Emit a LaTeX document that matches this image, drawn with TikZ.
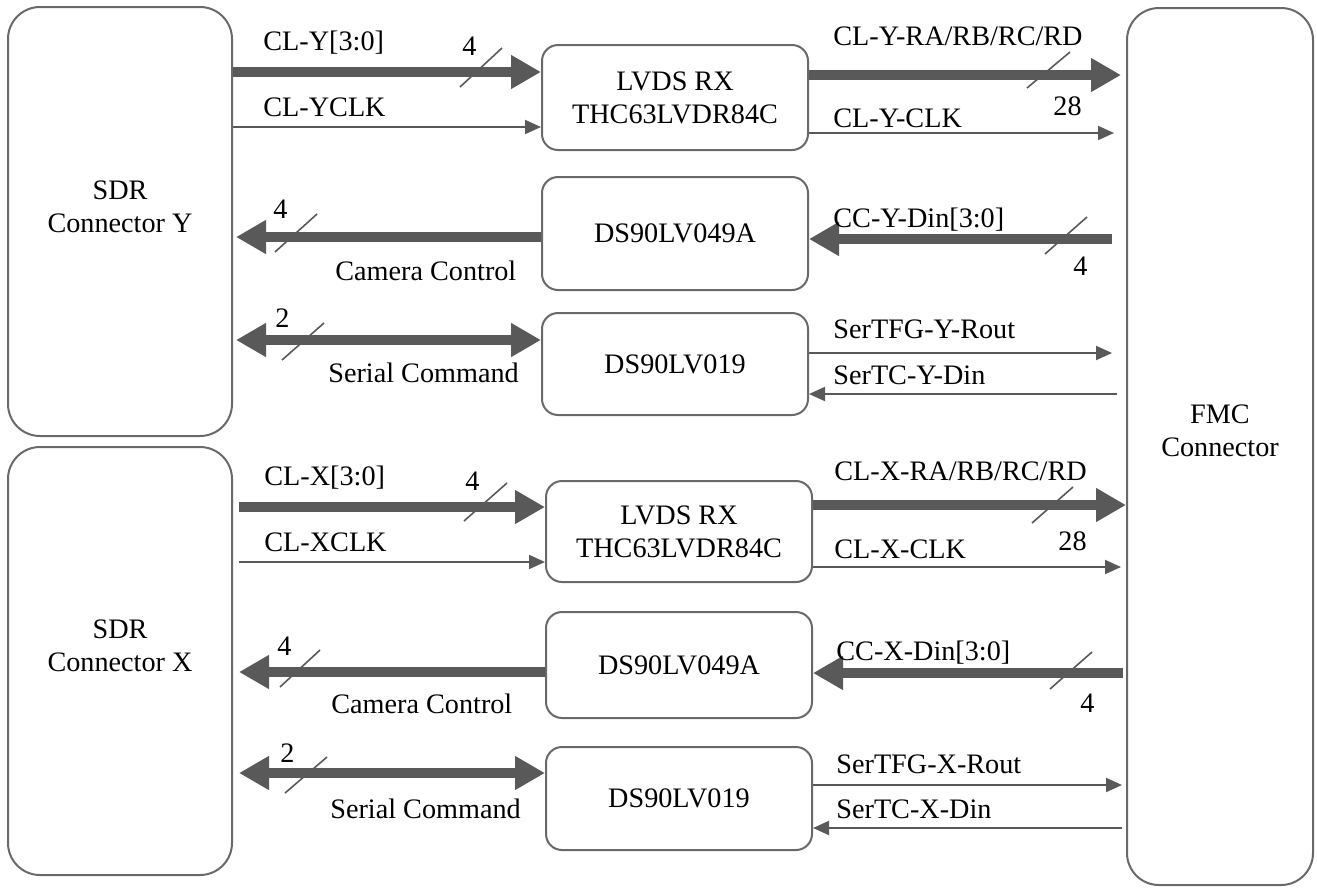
\documentclass[tikz,border=0pt]{standalone}
\usepackage{fontspec}
\setmainfont{Liberation Serif}
\usetikzlibrary{arrows.meta}
\definecolor{boxcol}{RGB}{105,105,105}
\definecolor{arrcol}{RGB}{89,89,89}
\begin{document}
\begin{tikzpicture}[x=0.5pt,y=-0.5pt,
  txt/.style={font=\fontsize{14.1}{16.5}\selectfont},
  bigbox/.style={draw=boxcol, line width=1pt, rounded corners=16pt, inner sep=0pt, minimum width=112pt},
  chip/.style={draw=boxcol, line width=1pt, rounded corners=8pt, inner sep=0pt, minimum width=133pt, align=center, txt},
  bus/.style={draw=arrcol, line width=5.2pt, -{Triangle[length=15pt,width=16pt]}},
  dbus/.style={draw=arrcol, line width=5.2pt, {Triangle[length=15pt,width=16pt]}-{Triangle[length=15pt,width=16pt]}},
  sig/.style={draw=arrcol, line width=1pt, -{Triangle[length=8pt,width=7pt]}},
  tickmark/.style={draw=arrcol, line width=0.8pt},
  lbl/.style={inner sep=0pt, anchor=base west, txt},
  boxtxt/.style={inner sep=0pt, align=center, txt}]
\useasboundingbox (0,0) rectangle (1317,890);

% ---- big connectors
\node[bigbox, minimum height=214.5pt] (sdrY) at (120,221.5) {};
\node[bigbox, minimum height=214pt] (sdrX) at (120,661) {};
\node[bigbox, minimum width=93pt, minimum height=438.5pt] (fmc) at (1220,446.5) {};
\node[boxtxt] (sdrYt) at (120,207) {SDR\\Connector Y};
\node[boxtxt] (sdrXt) at (120,646) {SDR\\Connector X};
\node[boxtxt] (fmct) at (1220,431) {FMC\\Connector};

% ---- chips Y
\node[chip, minimum height=52.5pt] (lvdsY) at (675,97.5) {LVDS RX\\THC63LVDR84C};
\node[chip, minimum height=56.5pt] (dsAY) at (675,233.5) {DS90LV049A};
\node[chip, minimum height=51pt] (dsBY) at (675,364) {DS90LV019};
% ---- chips X
\node[chip, minimum height=50.5pt] (lvdsX) at (679,531.5) {LVDS RX\\THC63LVDR84C};
\node[chip, minimum height=53pt] (dsAX) at (679,665) {DS90LV049A};
\node[chip, minimum height=51.5pt] (dsBX) at (679,798.5) {DS90LV019};

% ---- helper rows
\coordinate (rY1) at (0,72);   \coordinate (rY2) at (0,127);
\coordinate (rY3) at (0,75);   \coordinate (rY4) at (0,133);
\coordinate (rY5) at (0,237);  \coordinate (rY6) at (0,239);
\coordinate (rY7) at (0,340);  \coordinate (rY8) at (0,353);
\coordinate (rY9) at (0,394);
\coordinate (rX1) at (0,507);  \coordinate (rX2) at (0,562);
\coordinate (rX3) at (0,505);  \coordinate (rX4) at (0,567);
\coordinate (rX5) at (0,672);  \coordinate (rX6) at (0,673);
\coordinate (rX7) at (0,773);  \coordinate (rX8) at (0,785);
\coordinate (rX9) at (0,828);

% ---- Y connectors
\draw[bus] (sdrY.east |- rY1) -- (lvdsY.west |- rY1);
\draw[sig] (sdrY.east |- rY2) -- (lvdsY.west |- rY2);
\draw[bus, shorten >=2.5pt] (lvdsY.east |- rY3) -- (fmc.west |- rY3);
\draw[sig, shorten >=6pt] (lvdsY.east |- rY4) -- (fmc.west |- rY4);
\draw[bus, shorten >=1.5pt] (dsAY.west |- rY5) -- (sdrY.east |- rY5);
\draw[bus, shorten <=7pt] (fmc.west |- rY6) -- (dsAY.east |- rY6);
\draw[dbus, shorten <=1.5pt] (sdrY.east |- rY7) -- (dsBY.west |- rY7);
\draw[sig, shorten >=7pt] (dsBY.east |- rY8) -- (fmc.west |- rY8);
\draw[sig, shorten <=4.5pt] (fmc.west |- rY9) -- (dsBY.east |- rY9);

% ---- X connectors
\draw[bus, shorten <=3pt] (sdrX.east |- rX1) -- (lvdsX.west |- rX1);
\draw[sig, shorten <=3pt] (sdrX.east |- rX2) -- (lvdsX.west |- rX2);
\draw[bus] (lvdsX.east |- rX3) -- (fmc.west |- rX3);
\draw[sig, shorten >=2.5pt] (lvdsX.east |- rX4) -- (fmc.west |- rX4);
\draw[bus, shorten >=3pt] (dsAX.west |- rX5) -- (sdrX.east |- rX5);
\draw[bus, shorten <=1.5pt] (fmc.west |- rX6) -- (dsAX.east |- rX6);
\draw[dbus, shorten <=3pt] (sdrX.east |- rX7) -- (dsBX.west |- rX7);
\draw[sig, shorten >=2pt] (dsBX.east |- rX8) -- (fmc.west |- rX8);
\draw[sig, shorten <=2pt] (fmc.west |- rX9) -- (dsBX.east |- rX9);

% ---- bus width ticks
\draw[tickmark] (460,87) -- (502,48);
\draw[tickmark] (1027,88) -- (1070,52);
\draw[tickmark] (275,252) -- (317,214);
\draw[tickmark] (1045,254) -- (1087,217);
\draw[tickmark] (282,360) -- (324,323);
\draw[tickmark] (464,521) -- (507,483);
\draw[tickmark] (1032,523) -- (1073,487);
\draw[tickmark] (280,687) -- (320,650);
\draw[tickmark] (1050,689) -- (1092,652);
\draw[tickmark] (285,793) -- (327,757);

% ---- labels Y
\node[lbl] (lY1) at (263,50) {CL-Y[3:0]};
\node[lbl] (lY2) at (263,116) {CL-YCLK};
\node[lbl] (nY1) at (462,55) {4};
\node[lbl] (lY3) at (833,45) {CL-Y-RA/RB/RC/RD};
\node[lbl] (nY2) at (1053,115) {28};
\node[lbl] (lY4) at (833,127) {CL-Y-CLK};
\node[lbl] (nY3) at (273,218) {4};
\node[lbl] (lY5) at (335,280) {Camera Control};
\node[lbl] (lY6) at (833,227) {CC-Y-Din[3:0]};
\node[lbl] (nY4) at (1073,275) {4};
\node[lbl] (nY5) at (275,327) {2};
\node[lbl] (lY7) at (328,382) {Serial Command};
\node[lbl] (lY8) at (833,338) {SerTFG-Y-Rout};
\node[lbl] (lY9) at (833,384) {SerTC-Y-Din};

% ---- labels X
\node[lbl] (lX1) at (264,485) {CL-X[3:0]};
\node[lbl] (lX2) at (264,551) {CL-XCLK};
\node[lbl] (nX1) at (465,490) {4};
\node[lbl] (lX3) at (834,480) {CL-X-RA/RB/RC/RD};
\node[lbl] (nX2) at (1058,550) {28};
\node[lbl] (lX4) at (834,558) {CL-X-CLK};
\node[lbl] (nX3) at (277,655) {4};
\node[lbl] (lX5) at (331,713) {Camera Control};
\node[lbl] (lX6) at (836,660) {CC-X-Din[3:0]};
\node[lbl] (nX4) at (1080,712) {4};
\node[lbl] (nX5) at (280,762) {2};
\node[lbl] (lX7) at (330,818) {Serial Command};
\node[lbl] (lX8) at (836,773) {SerTFG-X-Rout};
\node[lbl] (lX9) at (836,818) {SerTC-X-Din};
\end{tikzpicture}
\end{document}
